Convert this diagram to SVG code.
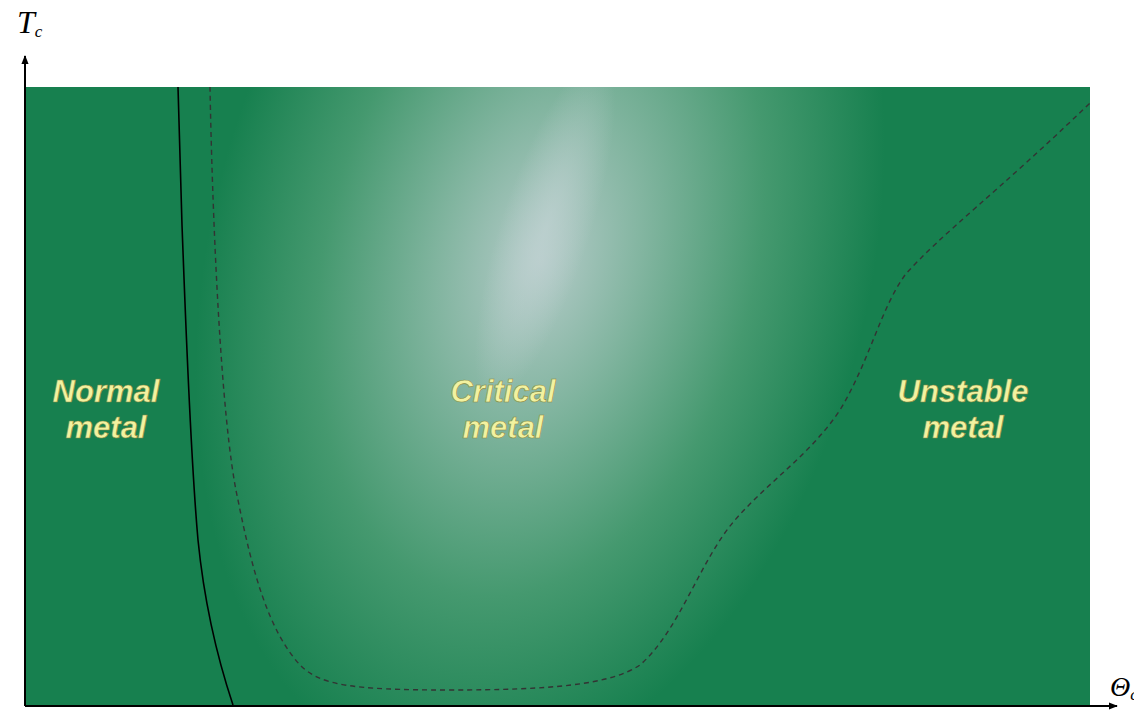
<svg xmlns="http://www.w3.org/2000/svg" width="1134" height="718" viewBox="0 0 1134 718">
<style>
.lbl{font-family:"Liberation Sans",Arial,sans-serif;font-size:31px;font-weight:bold;font-style:italic;fill:#f2f2a0;stroke:#8a8a40;stroke-width:0.6;text-anchor:middle}
.ax{font-family:"Liberation Serif","Times New Roman",serif;font-style:italic;fill:#000}
</style>
<defs>
<radialGradient id="g" gradientUnits="userSpaceOnUse" cx="540" cy="260" r="330" gradientTransform="translate(540 260) rotate(14) scale(1 1.6) translate(-540 -260)">
<stop offset="0" stop-color="#b5cbc9"/>
<stop offset="0.3" stop-color="#82b5a0"/>
<stop offset="0.65" stop-color="#45996f"/>
<stop offset="1" stop-color="#17804f"/>
</radialGradient>
<radialGradient id="s" gradientUnits="userSpaceOnUse" cx="545" cy="230" r="45" gradientTransform="translate(545 230) rotate(18) scale(1 4) translate(-545 -230)">
<stop offset="0" stop-color="#c0d2d2" stop-opacity="0.7"/>
<stop offset="1" stop-color="#c0d2d2" stop-opacity="0"/>
</radialGradient>
<marker id="ar" viewBox="0 0 10 10" refX="9" refY="5" markerWidth="9" markerHeight="9" markerUnits="userSpaceOnUse" orient="auto"><path d="M0,1 L10,5 L0,9 Z" fill="#000"/></marker>
</defs>
<g id="bg">
<rect x="25" y="87" width="1065" height="618" fill="#17804f"/>
<rect x="25" y="87" width="1065" height="618" fill="url(#g)"/>
<rect x="25" y="87" width="1065" height="618" fill="url(#s)"/>
</g>
<g id="connectors" fill="none">
<path d="M178,87 L182,225 C186,330 190,450 198,540 C205,610 218,660 233,705" stroke="#000" stroke-width="1.6"/>
<path d="M210,87 C212,200 220,420 238,500 C252,570 268,630 300,665 C320,685 350,690 450,690 C550,690 610,685 640,665 C680,630 700,560 735,520 C770,480 810,455 840,410 C870,360 880,310 905,275 C940,235 1000,190 1090,103" stroke="#333" stroke-width="1.4" stroke-dasharray="5,4"/>
<line x1="25" y1="706" x2="1117" y2="706" stroke="#000" stroke-width="2" marker-end="url(#ar)"/>
<line x1="25" y1="706" x2="25" y2="56" stroke="#000" stroke-width="2" marker-end="url(#ar)"/>
</g>
<g id="labels">
<text class="lbl" x="106" y="402">Normal</text>
<text class="lbl" x="106" y="438">metal</text>
<text class="lbl" x="503" y="402">Critical</text>
<text class="lbl" x="503" y="438">metal</text>
<text class="lbl" x="963" y="402">Unstable</text>
<text class="lbl" x="963" y="438">metal</text>
<text class="ax" x="17" y="33" font-size="32">T<tspan font-size="17" dy="4">c</tspan></text>
<text class="ax" x="1110" y="696" font-size="28">Θ<tspan font-size="17" dy="4">c</tspan></text>
</g>
</svg>
